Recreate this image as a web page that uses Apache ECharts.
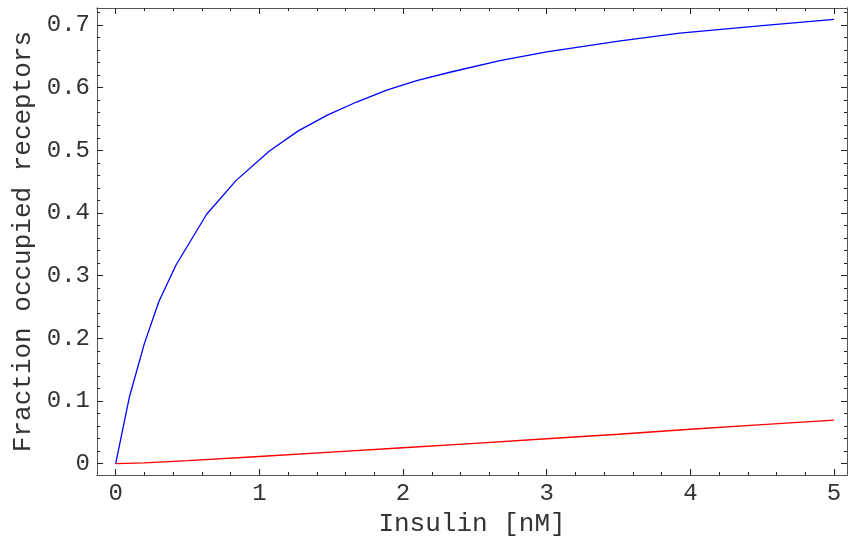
<!DOCTYPE html>
<html><head><meta charset="utf-8">
<script src="https://cdn.jsdelivr.net/npm/echarts@6/dist/echarts.min.js"></script>
<style>html,body{margin:0;padding:0;background:#fff}#c{width:848px;height:536px}</style>
</head><body><div id="c"></div>
<script>
// Data
const insulinBlue = [0, 0.095, 0.2, 0.3, 0.42, 0.633, 0.837, 1.07, 1.271, 1.473, 1.677, 1.886, 2.095, 2.326, 2.674, 3.0, 3.5, 3.927, 4.5, 5.0];
const occupiedBlue = [0, 0.106, 0.192, 0.2585, 0.317, 0.398, 0.4516, 0.499, 0.531, 0.556, 0.577, 0.596, 0.611, 0.6245, 0.643, 0.657, 0.674, 0.687, 0.699, 0.709];
const insulinRed = [0, 0.2, 0.5, 1.0, 1.5, 2.0, 2.5, 3.0, 3.5, 4.0, 4.5, 5.0];
const occupiedRed = [0, 0.0015, 0.005, 0.0115, 0.0185, 0.0255, 0.0325, 0.0398, 0.047, 0.055, 0.0625, 0.0697];
const xMajor = [0, 1, 2, 3, 4, 5];
const xMinor = [0.2,0.4,0.6,0.8,1.2,1.4,1.6,1.8,2.2,2.4,2.6,2.8,3.2,3.4,3.6,3.8,4.2,4.4,4.6,4.8];
const yMajor = [0, 0.1, 0.2, 0.3, 0.4, 0.5, 0.6, 0.7];
const yMinor = [0.02,0.04,0.06,0.08,0.12,0.14,0.16,0.18,0.22,0.24,0.26,0.28,0.32,0.34,0.36,0.38,0.42,0.44,0.46,0.48,0.52,0.54,0.56,0.58,0.62,0.64,0.66,0.68,0.72];
const xTitle = 'Insulin [nM]';
const yTitle = 'Fraction occupied receptors';

const FONT = 'Liberation Mono';
const X_MIN = -0.13, X_MAX = 5.09, Y_MIN = -0.018, Y_MAX = 0.727;
const lineCol = '#555';
const textCol = '#333';

function xAx(pos, ticks, len, labels, name) {
  return {
    type: 'value', position: pos, min: X_MIN, max: X_MAX,
    axisLine: { show: true, onZero: false, lineStyle: { color: lineCol, width: 1 } },
    axisTick: { show: true, inside: true, length: len, customValues: ticks, lineStyle: { color: '#222', width: 1 } },
    axisLabel: labels ? { show: true, customValues: xMajor, fontFamily: FONT, fontSize: 24, color: textCol, margin: 7, formatter: v => String(v) } : { show: false },
    splitLine: { show: false },
    name: name || '', nameLocation: 'middle', nameGap: 30,
    nameTextStyle: { fontFamily: FONT, fontSize: 26, color: textCol }
  };
}
function yAx(pos, ticks, len, labels, name) {
  return {
    type: 'value', position: pos, min: Y_MIN, max: Y_MAX,
    axisLine: { show: true, onZero: false, lineStyle: { color: lineCol, width: 1 } },
    axisTick: { show: true, inside: true, length: len, customValues: ticks, lineStyle: { color: '#222', width: 1 } },
    axisLabel: labels ? { show: true, customValues: yMajor, fontFamily: FONT, fontSize: 24, color: textCol, margin: 7, formatter: v => String(Math.round(v*10)/10) } : { show: false },
    splitLine: { show: false },
    name: name || '', nameLocation: 'middle', nameGap: 61,
    nameTextStyle: { fontFamily: FONT, fontSize: 26, color: textCol }
  };
}

const chart = echarts.init(document.getElementById('c'), null, { renderer: 'canvas' });
chart.setOption({
  animation: false,
  backgroundColor: '#fff',
  grid: { left: 97, right: 1, top: 8, bottom: 61, containLabel: false, outerBoundsMode: 'none' },
  xAxis: [
    xAx('bottom', xMajor, 6, true, xTitle),
    xAx('bottom', xMinor, 3, false),
    xAx('top', xMajor, 6, false),
    xAx('top', xMinor, 3, false)
  ],
  yAxis: [
    yAx('left', yMajor, 6, true, yTitle),
    yAx('left', yMinor, 3, false),
    yAx('right', yMajor, 6, false),
    yAx('right', yMinor, 3, false)
  ],
  series: [
    { type: 'line', xAxisIndex: 0, yAxisIndex: 0, data: insulinBlue.map((x, i) => [x, occupiedBlue[i]]), showSymbol: false, lineStyle: { color: '#0000ff', width: 1.3 }, smooth: false },
    { type: 'line', xAxisIndex: 0, yAxisIndex: 0, data: insulinRed.map((x, i) => [x, occupiedRed[i]]), showSymbol: false, lineStyle: { color: '#ff0000', width: 1.3 }, smooth: false }
  ]
});
</script></body></html>
